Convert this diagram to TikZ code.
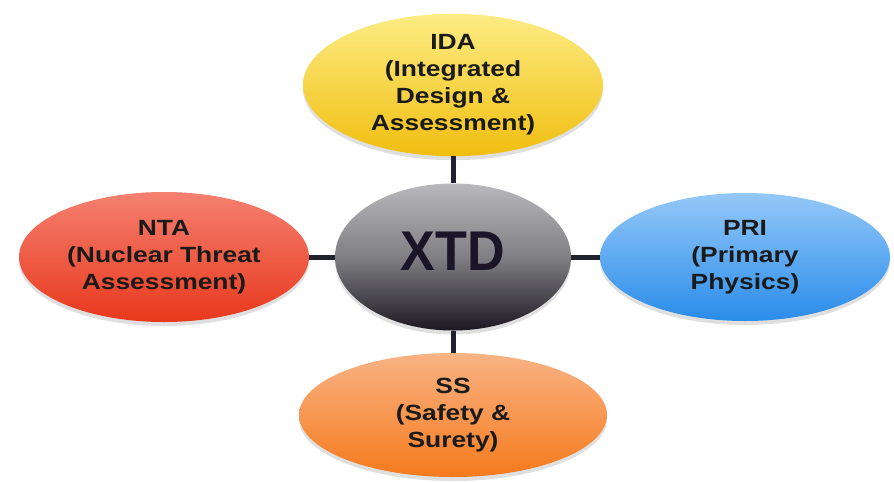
\documentclass[tikz,border=0pt]{standalone}
\usepackage{fontspec}
\setmainfont{Liberation Sans}
\newfontfamily\widefont[FakeStretch=1.2]{Liberation Sans}
\newfontfamily\narrowfont[FakeStretch=0.93]{Liberation Sans}
\usetikzlibrary{shapes.geometric,shadows}
\definecolor{txt}{HTML}{1A1A1A}
\definecolor{xtdtxt}{HTML}{1A1628}
\definecolor{lnk}{HTML}{22222E}
\definecolor{yelT}{HTML}{FCEC84}\definecolor{yelB}{HTML}{F1BE10}
\definecolor{redT}{HTML}{F58070}\definecolor{redB}{HTML}{E8381C}
\definecolor{bluT}{HTML}{94C8F8}\definecolor{bluB}{HTML}{2A8CEA}
\definecolor{orT}{HTML}{F9B385}\definecolor{orB}{HTML}{F57A1C}
\definecolor{grT}{HTML}{B8B8BC}\definecolor{grM}{HTML}{808084}\definecolor{grB}{HTML}{1C1822}
\tikzset{
  bub/.style={ellipse, inner sep=0pt, font=\widefont\bfseries\fontsize{22}{27}\selectfont, text=txt, align=center,
    drop shadow={opacity=0.25, shadow xshift=0pt, shadow yshift=-4pt}},
  link/.style={draw=lnk, line width=5pt}
}
\begin{document}
\begin{tikzpicture}[x=1pt,y=-1pt]
\useasboundingbox (0,0) rectangle (894,482);
\node[bub, minimum width=300pt, minimum height=134pt, top color=yelT, bottom color=yelB] (ida) at (453,85)
  {IDA\\(Integrated\\Design \&\\Assessment)};
\node[bub, minimum width=290pt, minimum height=130pt, top color=redT, bottom color=redB] (nta) at (164,257)
  {NTA\\(Nuclear Threat\\Assessment)};
\node[bub, minimum width=290pt, minimum height=128pt, top color=bluT, bottom color=bluB] (pri) at (745,257)
  {PRI\\(Primary\\Physics)};
\node[bub, minimum width=308pt, minimum height=124pt, top color=orT, bottom color=orB] (ss) at (453,415)
  {SS\\(Safety \&\\Surety)};
\node[bub, minimum width=236pt, minimum height=147pt, top color=grT, bottom color=grB, middle color=grM,
  label={[text=xtdtxt, font=\narrowfont\bfseries\fontsize{56}{60}\selectfont, yshift=6pt]center:XTD}] (xtd) at (453,257) {};
\draw[link] (ida.south) -- (xtd.north);
\draw[link] (nta.east) -- (xtd.west);
\draw[link] (xtd.east) -- (pri.west);
\draw[link] (xtd.south) -- (ss.north);
\end{tikzpicture}
\end{document}
